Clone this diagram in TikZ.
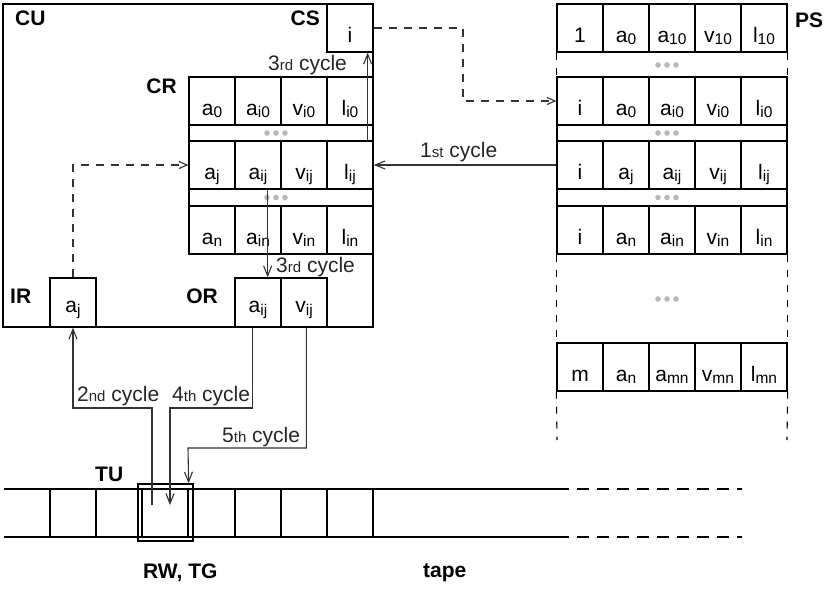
\documentclass[tikz,border=0pt]{standalone}
\usepackage{fontspec}
\setmainfont{Liberation Sans}
\usetikzlibrary{arrows.meta,calc}
\newcommand\sbs[1]{\raisebox{-2.5pt}{\fontsize{15.5}{15.5}\selectfont #1}}
\newcommand\ordsfx[1]{{\fontsize{15}{15}\selectfont #1}}
\begin{document}
\begin{tikzpicture}[x=1pt,y=-1pt,
  every node/.style={font=\fontsize{21}{24}\selectfont, inner sep=2pt},
  cell/.style={draw, line width=1.3pt, minimum width=46pt, minimum height=48pt, text height=34pt, text depth=6pt, inner sep=0pt},
  reg/.style={cell, minimum height=49pt, text height=30pt, text depth=10pt},
  dotsrow/.style={draw, line width=1.3pt, minimum width=184pt, minimum height=16pt, inner sep=0pt},
  psdots/.style={draw, line width=1.3pt, minimum width=230pt, minimum height=16pt, inner sep=0pt},
  lbl/.style={font=\bfseries\fontsize{21}{24}\selectfont, inner sep=0pt},
  txt/.style={inner sep=0pt, text=black!85},
  conn/.style={line width=1.1pt, draw=black!80},
  arr/.style={conn, -{Straight Barb[length=10pt,width=8pt]}},
  dconn/.style={conn, dash pattern=on 8pt off 7pt},
  darr/.style={dconn, -{Straight Barb[length=8pt,width=7pt]}},
  dside/.style={line width=1.1pt, dash pattern=on 7pt off 8pt},
  dotc/.style={fill=gray!55},
]
\useasboundingbox (0,0) rectangle (826,589);

% control unit
\node[draw, line width=1.3pt, minimum width=370pt, minimum height=323pt, inner sep=0pt] (cu) at (188,165.5) {};
\node[lbl, anchor=base west] (lcu) at (15,25) {CU};
\node[cell] (cs) at (350,28) {i};
\node[lbl, anchor=base east] (lcs) at (320,25) {CS};

% CR
\node[lbl, anchor=base east] (lcr) at (177,93) {CR};
\node[cell] (cr11) at (212,101) {a\sbs{0}};
\node[cell] (cr12) at (258,101) {a\sbs{i0}};
\node[cell] (cr13) at (304,101) {v\sbs{i0}};
\node[cell] (cr14) at (350,101) {l\sbs{i0}};
\node[dotsrow] (crd1) at (281,133) {};
\node[cell] (cr21) at (212,165) {a\sbs{j}};
\node[cell] (cr22) at (258,165) {a\sbs{ij}};
\node[cell] (cr23) at (304,165) {v\sbs{ij}};
\node[cell] (cr24) at (350,165) {l\sbs{ij}};
\node[dotsrow] (crd2) at (281,197.5) {};
\node[cell] (cr31) at (212,230) {a\sbs{n}};
\node[cell] (cr32) at (258,230) {a\sbs{in}};
\node[cell] (cr33) at (304,230) {v\sbs{in}};
\node[cell] (cr34) at (350,230) {l\sbs{in}};
\foreach \dx in {-14,-5,4} {
  \fill[dotc] ([xshift=\dx pt]crd1.center) circle (2.8pt);
  \fill[dotc] ([xshift=\dx pt]crd2.center) circle (2.8pt);
}

% IR, OR
\node[lbl, anchor=base west] (lir) at (10,303) {IR};
\node[reg] (ir) at (73,302.5) {a\sbs{j}};
\node[lbl, anchor=base east] (lor) at (218,303) {OR};
\node[reg] (or1) at (258,302.5) {a\sbs{ij}};
\node[reg] (or2) at (304,302.5) {v\sbs{ij}};

% PS
\node[lbl, anchor=base west] (lps) at (795,27) {PS};
\node[cell] (ps11) at (580,28) {1};
\node[cell] (ps12) at (626,28) {a\sbs{0}};
\node[cell] (ps13) at (672,28) {a\sbs{10}};
\node[cell] (ps14) at (718,28) {v\sbs{10}};
\node[cell] (ps15) at (764,28) {l\sbs{10}};
\node[cell] (ps21) at (580,101) {i};
\node[cell] (ps22) at (626,101) {a\sbs{0}};
\node[cell] (ps23) at (672,101) {a\sbs{i0}};
\node[cell] (ps24) at (718,101) {v\sbs{i0}};
\node[cell] (ps25) at (764,101) {l\sbs{i0}};
\node[psdots] (psd1) at (672,133) {};
\node[cell] (ps31) at (580,165) {i};
\node[cell] (ps32) at (626,165) {a\sbs{j}};
\node[cell] (ps33) at (672,165) {a\sbs{ij}};
\node[cell] (ps34) at (718,165) {v\sbs{ij}};
\node[cell] (ps35) at (764,165) {l\sbs{ij}};
\node[psdots] (psd2) at (672,197.5) {};
\node[cell] (ps41) at (580,230) {i};
\node[cell] (ps42) at (626,230) {a\sbs{n}};
\node[cell] (ps43) at (672,230) {a\sbs{in}};
\node[cell] (ps44) at (718,230) {v\sbs{in}};
\node[cell] (ps45) at (764,230) {l\sbs{in}};
\node[cell] (ps51) at (580,367) {m};
\node[cell] (ps52) at (626,367) {a\sbs{n}};
\node[cell] (ps53) at (672,367) {a\sbs{mn}};
\node[cell] (ps54) at (718,367) {v\sbs{mn}};
\node[cell] (ps55) at (764,367) {l\sbs{mn}};
\coordinate (psgap1) at (672,65);
\coordinate (psgap2) at (672,299);
\foreach \dx in {-14,-5,4} {
  \fill[dotc] ([xshift=\dx pt]psd1.center) circle (2.8pt);
  \fill[dotc] ([xshift=\dx pt]psd2.center) circle (2.8pt);
  \fill[dotc] ([xshift=\dx pt]psgap1) circle (2.8pt);
  \fill[dotc] ([xshift=\dx pt]psgap2) circle (2.8pt);
}
\coordinate (psendL) at (557,440);
\coordinate (psendR) at (787,440);
\draw[dside] (ps11.south west) -- (ps21.north west);
\draw[dside] (ps15.south east) -- (ps25.north east);
\draw[dside] (ps41.south west) -- (ps51.north west);
\draw[dside] (ps45.south east) -- (ps55.north east);
\draw[dside] (ps51.south west) -- (psendL);
\draw[dside] (ps55.south east) -- (psendR);

% tape
\draw[line width=1.3pt] (4,489) -- (557,489);
\draw[line width=1.3pt] (4,537) -- (557,537);
\draw[line width=1.3pt, dash pattern=on 12pt off 8pt] (557,489) -- (742,489);
\draw[line width=1.3pt, dash pattern=on 12pt off 8pt] (557,537) -- (742,537);
\foreach \x in {50,96,142,188,235,281,327,373} \draw[line width=1.3pt] (\x,489) -- (\x,537);
\node[draw, line width=1.3pt, minimum width=55pt, minimum height=57pt, inner sep=0pt] (rw) at (165.5,512.5) {};
\node[lbl, anchor=base west] (ltu) at (95,481) {TU};
\node[lbl, anchor=base west] (lrw) at (143,578) {RW, TG};
\node[lbl, anchor=base west] (ltape) at (423,577) {tape};

% cycle labels
\node[txt, anchor=base west] (c3a) at (268,70) {3\ordsfx{rd} cycle};
\node[txt, anchor=base west] (c1) at (420,157) {1\ordsfx{st} cycle};
\node[txt, anchor=base west] (c3b) at (276,272) {3\ordsfx{rd} cycle};
\node[txt, anchor=base west] (c2) at (77,401) {2\ordsfx{nd} cycle};
\node[txt, anchor=base west] (c4) at (172,401) {4\ordsfx{th} cycle};
\node[txt, anchor=base west] (c5) at (222,442) {5\ordsfx{th} cycle};

% connectors
\draw[arr] (ps31.west) -- (cr24.east);
\coordinate (dk) at (463,28);
\draw[darr] (cs.east) -- (dk) |- (ps21.west);
\draw[arr] ([xshift=-6pt]cr24.north east) -- ([xshift=-6pt]cs.south east);
\draw[arr] ([xshift=-14pt]cr22.south east) -- ([xshift=-14pt]or1.north east);
\draw[darr] (ir.north) |- (cr21.west);
\coordinate (s2) at (152,505);
\coordinate (k2) at (152,408);
\draw[arr] (s2) -- (k2) -| (ir.south);
\coordinate (k4) at (170,408);
\coordinate (e4) at (170,505);
\draw[arr] ([xshift=18pt]or1.south west) |- (k4) -- (e4);
\coordinate (k5) at (188,448);
\draw[arr] ([xshift=26pt]or2.south west) |- (k5) -- ([xshift=-5pt]rw.north east);
\end{tikzpicture}
\end{document}
